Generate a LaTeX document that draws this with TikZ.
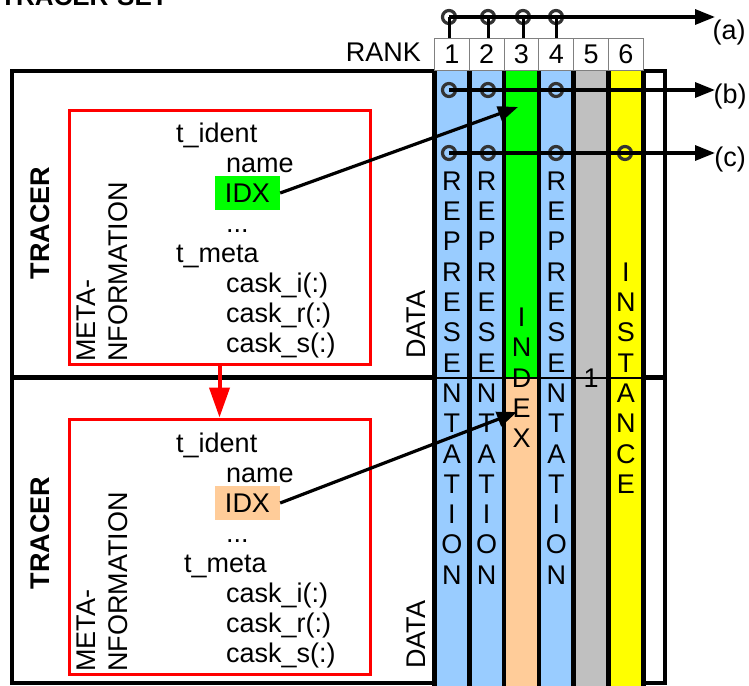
\documentclass[tikz,border=0pt]{standalone}
\usepackage{fontspec}
\setmainfont{Liberation Sans}
\usetikzlibrary{arrows.meta}
\definecolor{cblue}{HTML}{99CCFF}
\definecolor{cgreen}{HTML}{00FF00}
\definecolor{cpeach}{HTML}{FFCC99}
\definecolor{cgray}{HTML}{C0C0C0}
\definecolor{cyellow}{HTML}{FFFF00}
\definecolor{cred}{HTML}{FF0000}
\definecolor{dotc}{HTML}{333333}
\definecolor{rankc}{HTML}{808080}
\newcommand\ff{\fontsize{27}{30.3}\selectfont}
\begin{document}
\begin{tikzpicture}[x=1pt,y=-1pt,
  every node/.style={font=\ff, inner sep=0pt},
  txt/.style={anchor=base west},
  rottxt/.style={rotate=90, anchor=base west},
  boldrot/.style={rotate=90, font=\ff\bfseries},
  redbox/.style={draw=cred, line width=3, minimum width=301},
  rankbox/.style={draw=rankc, line width=1, fill=white, minimum width=34.8, minimum height=31.5},
  dot/.style={circle, draw=dotc, line width=3.2, minimum size=13},
  word/.style={align=center},
  barr/.style={line width=3.2, -{Triangle[length=20pt,width=15pt]}},
  rarr/.style={draw=cred, line width=4, -{Triangle[length=30pt,width=20pt]}},
  colline/.style={line width=4.5}]
\useasboundingbox (0,0) rectangle (749,685);

% title (cut at top, as in the reference)
\node[font=\fontsize{26}{30}\selectfont\bfseries, anchor=base west] (title) at (0,6) {TRACER-SET};

% outer tracer boxes
\draw[line width=4] (12,71) rectangle (665,377);
\draw[line width=4] (12,377) rectangle (665,683);
\draw[line width=5] (12,377) -- (665,377);

% columns
\fill[cblue]   (434.5,71) rectangle (469.3,690);
\fill[cblue]   (469.3,71) rectangle (504.1,690);
\fill[cgreen]  (504.1,71) rectangle (538.9,378);
\fill[cpeach]  (504.1,378) rectangle (538.9,690);
\fill[cblue]   (538.9,71) rectangle (573.7,690);
\fill[cgray]   (573.7,71) rectangle (608.5,690);
\fill[cyellow] (608.5,71) rectangle (643.3,690);
\draw[line width=1.2] (434.5,378) -- (643.3,378);
\foreach \x in {434.5,469.3,504.1,538.9,573.7,608.5,643.3}
  \draw[colline] (\x,71) -- (\x,690);

% rank header
\node[anchor=base east] (rank) at (421,62) {RANK};
\node[rankbox] (r1) at (451.9,54.5) {1};
\node[rankbox] (r2) at (486.7,54.5) {2};
\node[rankbox] (r3) at (521.5,54.5) {3};
\node[rankbox] (r4) at (556.3,54.5) {4};
\node[rankbox] (r5) at (591.1,54.5) {5};
\node[rankbox] (r6) at (625.9,54.5) {6};

% column words
\node[word] (w1) at (451.9,378) {R\\E\\P\\R\\E\\S\\E\\N\\T\\A\\T\\I\\O\\N};
\node[word] (w2) at (486.7,378) {R\\E\\P\\R\\E\\S\\E\\N\\T\\A\\T\\I\\O\\N};
\node[word] (w3) at (521.5,378) {I\\N\\D\\E\\X};
\node[word] (w4) at (556.3,378) {R\\E\\P\\R\\E\\S\\E\\N\\T\\A\\T\\I\\O\\N};
\node (w5) at (591.1,378) {1};
\node[word] (w6) at (625.9,378) {I\\N\\S\\T\\A\\N\\C\\E};

% circles
\node[dot] (a1) at (449,17) {};
\node[dot] (a2) at (488,17) {};
\node[dot] (a3) at (523,17) {};
\node[dot] (a4) at (556,17) {};
\node[dot] (b1) at (449,90) {};
\node[dot] (b2) at (488,90) {};
\node[dot] (b4) at (556,90) {};
\node[dot] (c1) at (449,153) {};
\node[dot] (c2) at (488,153) {};
\node[dot] (c4) at (556,153) {};
\node[dot] (c6) at (625,153) {};
\coordinate (ea) at (715,17);
\coordinate (eb) at (715,90);
\coordinate (ec) at (715,153);
\node (la) at (729,33) {(a)};
\node (lb) at (730,97) {(b)};
\node (lc) at (730,160) {(c)};
\draw[barr] (a1.center) -- (ea);
\draw[barr] (b1.center) -- (eb);
\draw[barr] (c1.center) -- (ec);
\foreach \n/\r in {a1/r1,a2/r2,a3/r3,a4/r4}
  \draw[line width=3] (\n.center) -- (\n.center |- \r.north);

% ---- upper tracer ----
\node[boldrot] (tr1) at (40,223) {TRACER};
\node[redbox, minimum height=254] (m1) at (219.5,237) {};
\node[rottxt] (me1) at (95,362) {META-};
\node[rottxt] (nf1) at (127,362) {NFORMATION};
\node[txt] (ti1) at (176,142) {t\_ident};
\node[txt] (na1) at (226,172) {name};
\node[fill=cgreen, minimum width=65, minimum height=34] (idx1) at (247.5,193) {IDX};
\node[txt] (dd1) at (226,232) {...};
\node[txt] (tm1) at (176,262) {t\_meta};
\node[txt] (ci1) at (226,292) {cask\_i(:)};
\node[txt] (cr1) at (226,322) {cask\_r(:)};
\node[txt] (cs1) at (226,352) {cask\_s(:)};
\node[rottxt] (da1) at (425,359) {DATA};

% ---- lower tracer ----
\node[boldrot] (tr2) at (40,533) {TRACER};
\node[redbox, minimum height=255] (m2) at (219.5,546.5) {};
\node[rottxt] (me2) at (95,672) {META-};
\node[rottxt] (nf2) at (127,672) {NFORMATION};
\node[txt] (ti2) at (176,452) {t\_ident};
\node[txt] (na2) at (226,482) {name};
\node[fill=cpeach, minimum width=65, minimum height=34] (idx2) at (247.5,503) {IDX};
\node[txt] (dd2) at (226,542) {...};
\node[txt] (tm2) at (184,572) {t\_meta};
\node[txt] (ci2) at (226,602) {cask\_i(:)};
\node[txt] (cr2) at (226,632) {cask\_r(:)};
\node[txt] (cs2) at (226,662) {cask\_s(:)};
\node[rottxt] (da2) at (425,669) {DATA};

% connectors
\coordinate (t1) at (518,107);
\coordinate (t2) at (517,412);
\draw[barr] (idx1.east) -- (t1);
\draw[barr] (idx2.east) -- (t2);
\draw[rarr] (m1.south) -- (m2.north);
\end{tikzpicture}
\end{document}
